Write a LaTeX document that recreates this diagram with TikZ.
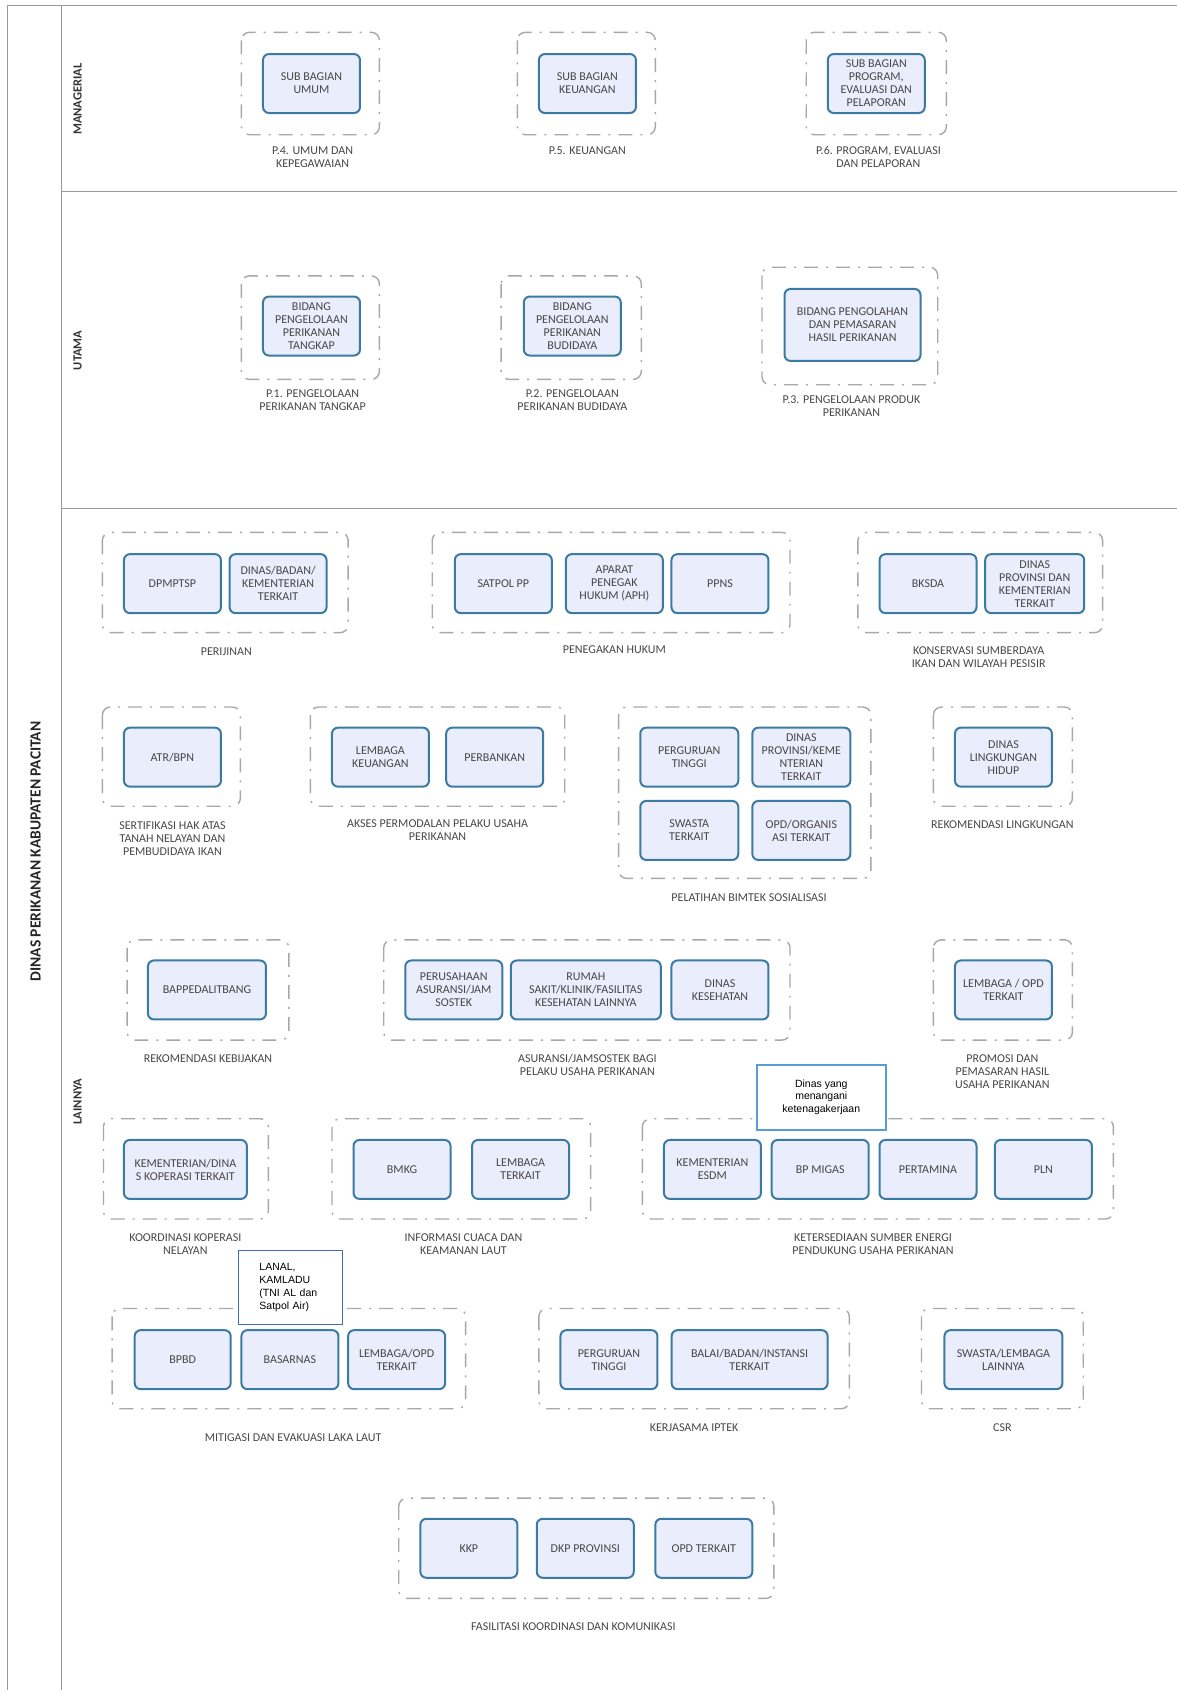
\documentclass[tikz,border=0pt]{standalone}
\usepackage{fontspec}
\setmainfont{Carlito}
\newfontfamily\arialfont{Liberation Sans}
\usepackage{tikz}
\usetikzlibrary{positioning}
\definecolor{boxline}{HTML}{3A7AA3}
\definecolor{boxfill}{HTML}{EAEDFB}
\definecolor{grpgray}{HTML}{A8A8A8}
\definecolor{framegray}{HTML}{9A9A9A}
\definecolor{txtgray}{HTML}{474747}
\definecolor{noteblue}{HTML}{5B9BD5}
\definecolor{notedark}{HTML}{4468C4}
\tikzset{
  grp/.style={draw=grpgray,line width=1.4pt,rounded corners=8pt,dash pattern=on 14pt off 8pt on 2pt off 8pt},
  box/.style={draw=boxline,line width=2pt,fill=boxfill,rounded corners=6pt,minimum width=97pt,minimum height=59pt,align=center,inner sep=2pt,text=txtgray,font=\fontsize{12}{13}\selectfont},
  grplabel/.style={align=center,text=txtgray,font=\fontsize{12}{13}\selectfont},
  band/.style={rotate=90,font=\bfseries\fontsize{12.5}{14}\selectfont,text=black!80},
  notebox/.style={draw=#1,line width=1.6pt,fill=white,font=\arialfont\fontsize{10.5}{12.8}\selectfont}
}
\begin{document}
\begin{tikzpicture}[x=1.0778pt,y=-1.0778pt]
\useasboundingbox (0,0) rectangle (1092,1568);
% frame
\draw[framegray,line width=1.3pt] (1092,5)--(7,5)--(7,1568);
\draw[framegray,line width=1.3pt] (57,5)--(57,1568);
\draw[framegray,line width=1.3pt] (57,178)--(1092,178);
\draw[framegray,line width=1.3pt] (57,472)--(1092,472);
\node[rotate=90,font=\bfseries\fontsize{15.5}{17}\selectfont,text=black!85] (dinas) at (33,790) {DINAS PERIKANAN KABUPATEN PACITAN};
\node[band] (managerial) at (72,92) {MANAGERIAL};
\node[band] (utama) at (72,325) {UTAMA};
\node[band] (lainnya) at (72,1022) {LAINNYA};

% managerial
\draw[grp] (224,30) rectangle (352,125);
\draw[grp] (480,30) rectangle (608,125);
\draw[grp] (748,30) rectangle (878,125);
\node[box] (umum) at (289,77.5) {SUB BAGIAN\\UMUM};
\node[box] (keuangan) at (545,77.5) {SUB BAGIAN\\KEUANGAN};
\node[box] (program) at (813,77.5) {SUB BAGIAN\\PROGRAM,\\EVALUASI DAN\\PELAPORAN};
\node[grplabel] (p4) at (290,146) {P.4. UMUM DAN\\KEPEGAWAIAN};
\node[grplabel] (p5) at (545,140) {P.5. KEUANGAN};
\node[grplabel] (p6) at (815,146) {P.6. PROGRAM, EVALUASI\\DAN PELAPORAN};

% utama
\draw[grp] (224,256) rectangle (352,352);
\draw[grp] (465,256) rectangle (595,352);
\draw[grp] (707,248) rectangle (870,357);
\node[box] (tangkap) at (289,302.5) {BIDANG\\PENGELOLAAN\\PERIKANAN\\TANGKAP};
\node[box] (budidaya) at (531,302.5) {BIDANG\\PENGELOLAAN\\PERIKANAN\\BUDIDAYA};
\node[box,minimum width=136pt,minimum height=72pt] (olahan) at (791,301.5) {BIDANG PENGOLAHAN\\DAN PEMASARAN\\HASIL PERIKANAN};
\node[grplabel] (p1) at (290,371) {P.1. PENGELOLAAN\\PERIKANAN TANGKAP};
\node[grplabel] (p2) at (531,371) {P.2. PENGELOLAAN\\PERIKANAN BUDIDAYA};
\node[grplabel] (p3) at (790,377) {P.3. PENGELOLAAN PRODUK\\PERIKANAN};

% lainnya, baris 1
\draw[grp] (95,494) rectangle (323,587);
\draw[grp] (401,494) rectangle (733,587);
\draw[grp] (796,494) rectangle (1023,587);
\node[box] (dpmptsp) at (160,541.5) {DPMPTSP};
\node[box] (dinasbadan) at (258,541.5) {DINAS/BADAN/\\KEMENTERIAN\\TERKAIT};
\node[box] (satpol) at (467,541.5) {SATPOL PP};
\node[box] (aph) at (570,541.5) {APARAT\\PENEGAK\\HUKUM (APH)};
\node[box] (ppns) at (668,541.5) {PPNS};
\node[box] (bksda) at (861,541.5) {BKSDA};
\node[box,minimum width=99pt] (dinprov) at (960,541.5) {DINAS\\PROVINSI DAN\\KEMENTERIAN\\TERKAIT};
\node[grplabel] (perijinan) at (210,605) {PERIJINAN};
\node[grplabel] (hukum) at (570,603) {PENEGAKAN HUKUM};
\node[grplabel] (konservasi) at (908,610) {KONSERVASI SUMBERDAYA\\IKAN DAN WILAYAH PESISIR};

% baris 2
\draw[grp] (95,656) rectangle (223,748);
\draw[grp] (288,656) rectangle (524,748);
\draw[grp] (574,656) rectangle (808,815);
\draw[grp] (866,656) rectangle (995,748);
\node[box] (atr) at (160,702.5) {ATR/BPN};
\node[box] (lemkeu) at (353,702.5) {LEMBAGA\\KEUANGAN};
\node[box] (bank) at (459,702.5) {PERBANKAN};
\node[box,minimum width=98pt] (pt1) at (639.5,702.5) {PERGURUAN\\TINGGI};
\node[box,minimum width=98pt] (dinkem) at (743.5,702.5) {DINAS\\PROVINSI/KEME\\NTERIAN\\TERKAIT};
\node[box,minimum width=98pt] (swasta) at (639.5,770.5) {SWASTA\\TERKAIT};
\node[box,minimum width=98pt] (opdorg) at (743.5,770.5) {OPD/ORGANIS\\ASI TERKAIT};
\node[box] (dlh) at (931,702.5) {DINAS\\LINGKUNGAN\\HIDUP};
\node[grplabel] (sertifikasi) at (160,778) {SERTIFIKASI HAK ATAS\\TANAH NELAYAN DAN\\PEMBUDIDAYA IKAN};
\node[grplabel] (akses) at (406,770) {AKSES PERMODALAN PELAKU USAHA\\PERIKANAN};
\node[grplabel] (pelatihan) at (695,833) {PELATIHAN BIMTEK SOSIALISASI};
\node[grplabel] (lingkungan) at (930,765) {REKOMENDASI LINGKUNGAN};

% baris 3
\draw[grp] (118,872) rectangle (268,965);
\draw[grp] (356,872) rectangle (733,965);
\draw[grp] (866,872) rectangle (995,965);
\node[box,minimum width=118pt] (bappeda) at (192,918.5) {BAPPEDALITBANG};
\node[box] (asuransi) at (421,918.5) {PERUSAHAAN\\ASURANSI/JAM\\SOSTEK};
\node[box,minimum width=150pt] (rumahsakit) at (543.5,918.5) {RUMAH\\SAKIT/KLINIK/FASILITAS\\KESEHATAN LAINNYA};
\node[box] (dinkes) at (668,918.5) {DINAS\\KESEHATAN};
\node[box] (lembopd) at (931,918.5) {LEMBAGA / OPD\\TERKAIT};
\node[grplabel] (kebijakan) at (193,982) {REKOMENDASI KEBIJAKAN};
\node[grplabel] (jamsostek) at (545,988) {ASURANSI/JAMSOSTEK BAGI\\PELAKU USAHA PERIKANAN};
\node[grplabel] (promosi) at (930,994) {PROMOSI DAN\\PEMASARAN HASIL\\USAHA PERIKANAN};

% baris 4
\draw[grp] (96,1038) rectangle (249,1131);
\draw[grp] (308,1038) rectangle (548,1131);
\draw[grp] (596,1038) rectangle (1033,1131);
\node[box,minimum width=123pt] (kemkop) at (172,1085) {KEMENTERIAN/DINA\\S KOPERASI TERKAIT};
\node[box] (bmkg) at (373,1085) {BMKG};
\node[box] (lemterkait) at (483,1085) {LEMBAGA\\TERKAIT};
\node[box] (esdm) at (661,1085) {KEMENTERIAN\\ESDM};
\node[box] (migas) at (761,1085) {BP MIGAS};
\node[box] (pertamina) at (861,1085) {PERTAMINA};
\node[box] (pln) at (968,1085) {PLN};
\node[grplabel] (koperasi) at (172,1154) {KOORDINASI KOPERASI\\NELAYAN};
\node[grplabel] (cuaca) at (430,1154) {INFORMASI CUACA DAN\\KEAMANAN LAUT};
\node[grplabel] (energi) at (810,1154) {KETERSEDIAAN SUMBER ENERGI\\PENDUKUNG USAHA PERIKANAN};

% baris 5
\draw[grp] (104,1214) rectangle (432,1307);
\draw[grp] (500,1214) rectangle (788,1307);
\draw[grp] (855,1214) rectangle (1005,1307);
\node[box,minimum width=96pt] (bpbd) at (169.5,1261.5) {BPBD};
\node[box] (basarnas) at (269,1261.5) {BASARNAS};
\node[box] (lemopd) at (368,1261.5) {LEMBAGA/OPD\\TERKAIT};
\node[box] (pt2) at (565,1261.5) {PERGURUAN\\TINGGI};
\node[box,minimum width=156pt] (balai) at (695.5,1261.5) {BALAI/BADAN/INSTANSI\\TERKAIT};
\node[box,minimum width=118pt] (swastalem) at (931,1261.5) {SWASTA/LEMBAGA\\LAINNYA};
\node[grplabel] (mitigasi) at (272,1334) {MITIGASI DAN EVAKUASI LAKA LAUT};
\node[grplabel] (iptek) at (644,1325) {KERJASAMA IPTEK};
\node[grplabel] (csr) at (930,1325) {CSR};

% baris 6
\draw[grp] (370,1390) rectangle (718,1483);
\node[box] (kkp) at (435,1436.5) {KKP};
\node[box] (dkp) at (543,1436.5) {DKP PROVINSI};
\node[box] (opdterkait) at (653,1436.5) {OPD TERKAIT};
\node[grplabel] (fasilitasi) at (532,1509) {FASILITASI KOORDINASI DAN KOMUNIKASI};

% catatan
\node[notebox=noteblue,minimum width=129pt,minimum height=65pt,align=center] (naker) at (762,1018) {Dinas yang\\menangani\\ketenagakerjaan};
\node[notebox=notedark,minimum width=104pt,minimum height=74pt,text width=62pt,align=left] (lanal) at (269.5,1194.5) {LANAL,\\KAMLADU\\(TNI AL dan\\Satpol Air)};
\end{tikzpicture}
\end{document}
